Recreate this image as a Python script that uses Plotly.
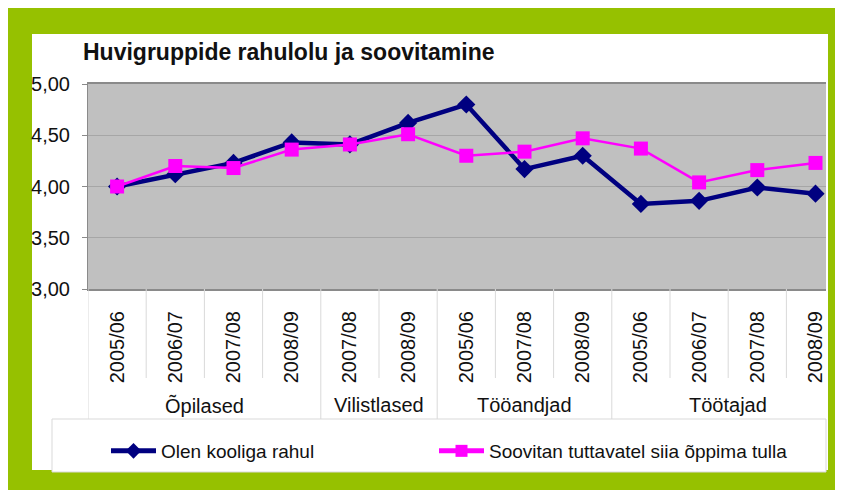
import plotly.graph_objects as go

# ---- data ----
groups = ["Õpilased", "Õpilased", "Õpilased", "Õpilased",
          "Vilistlased", "Vilistlased",
          "Tööandjad", "Tööandjad", "Tööandjad",
          "Töötajad", "Töötajad", "Töötajad", "Töötajad"]
years = ["2005/06", "2006/07", "2007/08", "2008/09",
         "2007/08", "2008/09",
         "2005/06", "2007/08", "2008/09",
         "2005/06", "2006/07", "2007/08", "2008/09"]
rahul = [4.00, 4.12, 4.23, 4.43, 4.41, 4.62, 4.80, 4.17, 4.30, 3.83, 3.86, 3.99, 3.93]
soovitan = [4.00, 4.20, 4.18, 4.36, 4.41, 4.51, 4.30, 4.34, 4.47, 4.37, 4.04, 4.16, 4.23]
series_names = ["Olen kooliga rahul", "Soovitan tuttavatel siia õppima tulla"]
title_text = "Huvigruppide rahulolu ja soovitamine"

idx = list(range(len(years)))

# ---- geometry (reference-pixel coordinates; page body has an 8px margin) ----
OFF = 8
VW, VH = 843, 490
W, H = VW - OFF, VH - OFF
L, R, T, B = 88, 826, 84, 289
PW, PH = R - L, B - T
CAT = 58.2  # pixel width of one category


def px(x):
    return (x - L) / PW


def py(y):
    return (B - y) / PH


FONT = "Liberation Sans, Arial, sans-serif"
GREEN = "#96C100"
NAVY = "#000080"
PINK = "#FF00FF"
DIV = "#D9D9D9"

fig = go.Figure()
fig.add_trace(go.Scatter(
    x=idx, y=rahul, mode="lines+markers", name=series_names[0],
    line=dict(color=NAVY, width=4.5),
    marker=dict(symbol="diamond", size=14, color=NAVY),
    legend="legend", cliponaxis=False,
))
fig.add_trace(go.Scatter(
    x=idx, y=soovitan, mode="lines+markers", name=series_names[1],
    line=dict(color=PINK, width=2.5),
    marker=dict(symbol="square", size=14, color=PINK),
    legend="legend2", cliponaxis=False,
))

shapes = []
# green frame
shapes.append(dict(type="rect", xref="paper", yref="paper", layer="below",
                   x0=px(OFF), x1=px(VW), y0=py(OFF), y1=py(VH),
                   fillcolor=GREEN, line=dict(width=0)))
# white inner
shapes.append(dict(type="rect", xref="paper", yref="paper", layer="below",
                   x0=px(32), x1=px(828), y0=py(34), y1=py(470),
                   fillcolor="white", line=dict(width=0)))
# plot area
shapes.append(dict(type="rect", xref="paper", yref="paper", layer="below",
                   x0=0, x1=1, y0=0, y1=1,
                   fillcolor="#C0C0C0", line=dict(width=0)))
# legend box
shapes.append(dict(type="rect", xref="paper", yref="paper", layer="below",
                   x0=px(52), x1=px(826), y0=py(419), y1=py(472),
                   fillcolor="white", line=dict(color=DIV, width=1)))
# inner dividers
for i in range(len(years) + 1):
    shapes.append(dict(type="line", xref="x", yref="paper",
                       x0=i - 0.5, x1=i - 0.5, y0=0, y1=py(378),
                       line=dict(color=DIV, width=1)))
# group dividers and group labels
annotations = []
bounds = [0]
for i in range(1, len(groups)):
    if groups[i] != groups[i - 1]:
        bounds.append(i)
bounds.append(len(groups))
for b in bounds:
    shapes.append(dict(type="line", xref="x", yref="paper",
                       x0=b - 0.5, x1=b - 0.5, y0=py(378), y1=py(419),
                       line=dict(color=DIV, width=1)))
for a, b in zip(bounds[:-1], bounds[1:]):
    annotations.append(dict(xref="x", yref="paper", x=(a + b - 1) / 2, y=py(405),
                            text=groups[a], showarrow=False, xanchor="center",
                            yanchor="middle",
                            font=dict(family=FONT, size=20, color="#111")))

fig.update_layout(
    width=W, height=H,
    margin=dict(l=L - OFF, r=VW - R, t=T - OFF, b=VH - B, pad=0),
    paper_bgcolor="white", plot_bgcolor="#C0C0C0",
    separators=", ",
    title=dict(text=title_text, x=(83 - OFF) / W, xanchor="left", xref="container",
               y=1 - (52 - OFF) / H, yanchor="middle", yref="container",
               font=dict(family=FONT, size=23, color="#111", weight="bold")),
    xaxis=dict(range=[-0.5, PW / CAT - 0.5], tickmode="array",
               tickvals=idx, ticktext=years, tickangle=-90,
               showgrid=False, zeroline=False,
               showline=True, linecolor="#8A8A8A", linewidth=2, mirror=True,
               ticks="", ticklabelstandoff=12,
               tickfont=dict(family=FONT, size=20, color="#111")),
    yaxis=dict(range=[3, 5], dtick=0.5, tickformat=".2f",
               showgrid=True, gridcolor="#A6A6A6", gridwidth=1,
               zeroline=False, showline=True, linecolor="#8A8A8A", linewidth=1,
               ticks="outside", ticklen=5, tickcolor="#8A8A8A",
               ticklabelstandoff=8,
               tickfont=dict(family=FONT, size=20, color="#111")),
    shapes=shapes,
    annotations=annotations,
    showlegend=True,
    legend=dict(x=px(106), y=py(451), xanchor="left", yanchor="middle",
                xref="paper", yref="paper", bgcolor="rgba(0,0,0,0)",
                itemsizing="constant", itemwidth=45,
                font=dict(family=FONT, size=19, color="#111")),
    legend2=dict(x=px(434), y=py(451), xanchor="left", yanchor="middle",
                 xref="paper", yref="paper", bgcolor="rgba(0,0,0,0)",
                 itemsizing="constant", itemwidth=45,
                 font=dict(family=FONT, size=19, color="#111")),
)

fig.write_html("out.html")
